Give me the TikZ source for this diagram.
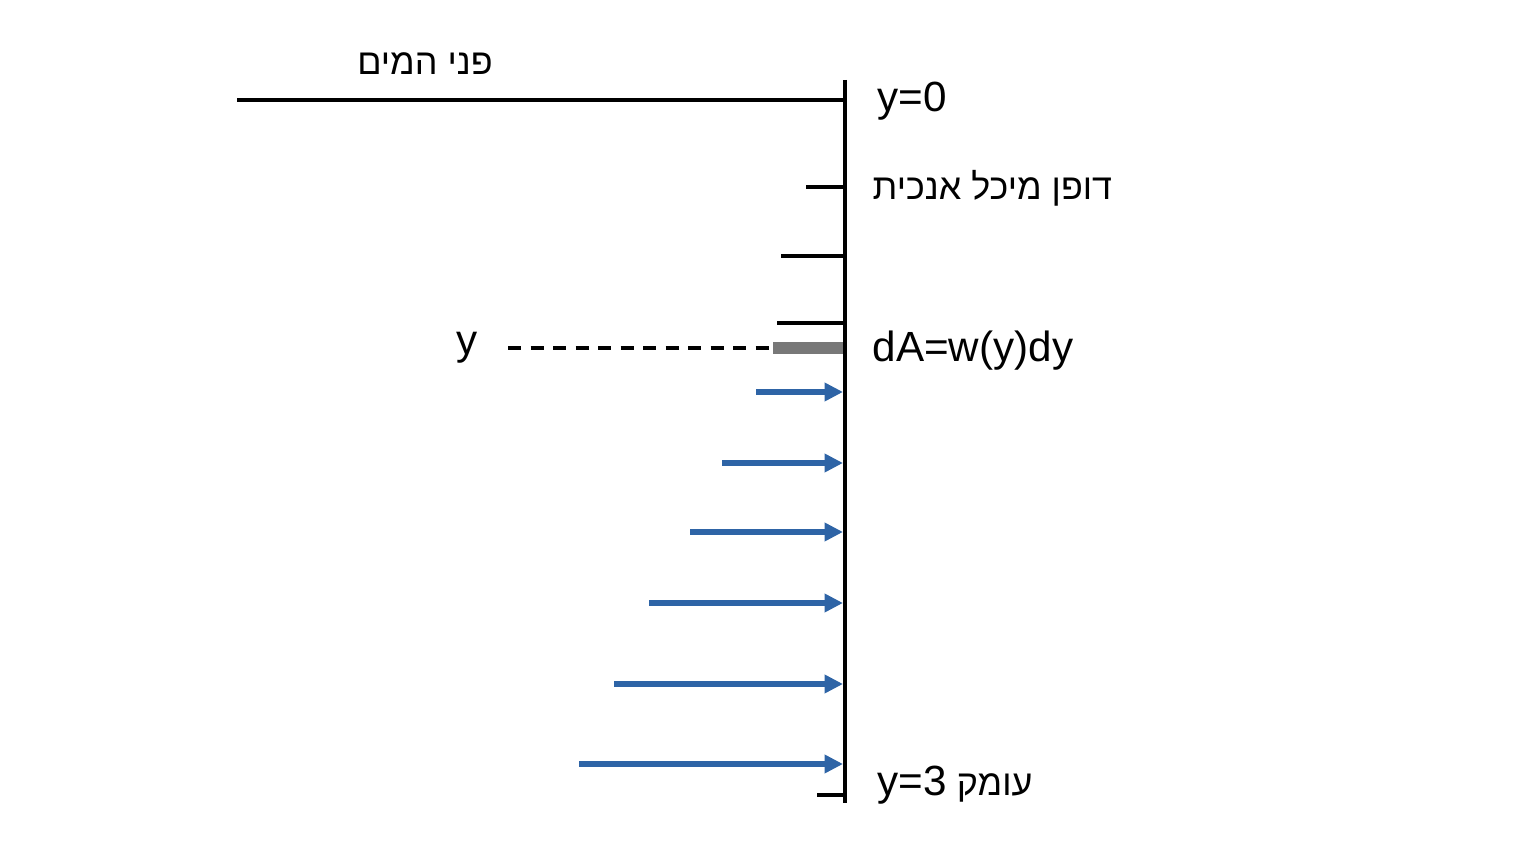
\documentclass[tikz,border=0pt]{standalone}
\usepackage{fontspec}
\setmainfont{Liberation Sans}
\newfontfamily\hebfont[Script=Hebrew]{Liberation Sans}
\TeXXeTstate=1
\usetikzlibrary{arrows.meta}
\definecolor{arrblue}{RGB}{46,100,166}
\definecolor{bargray}{RGB}{120,120,120}
\begin{document}
\begin{tikzpicture}[x=0.01cm,y=-0.01cm,
  lbl/.style={inner sep=0pt,font=\fontsize{12pt}{14pt}\selectfont},
  heb/.style={inner sep=0pt,font=\fontsize{10.2pt}{12pt}\hebfont},
  tickline/.style={line width=0.9pt},
  force/.style={arrblue,line width=1.5pt,-{Triangle[length=5.2pt,width=5pt]}}]
\useasboundingbox (0,0) rectangle (1536,864);
% wall
\coordinate (wtop) at (845,80);
\coordinate (wbot) at (845,803);
\draw[line width=1.4pt] (wtop) -- (wbot);
% water surface
\coordinate (s0) at (237,100);
\coordinate (s1) at (845,100);
\draw[tickline] (s0) -- (s1);
\node[heb] (surf) at (425,64) {\beginR פני המים\endR};
% ticks
\coordinate (t1a) at (806,187); \coordinate (t1b) at (845,187);
\coordinate (t2a) at (781,256); \coordinate (t2b) at (845,256);
\coordinate (t3a) at (777,323); \coordinate (t3b) at (845,323);
\coordinate (t4a) at (817,795); \coordinate (t4b) at (845,795);
\draw[tickline] (t1a) -- (t1b);
\draw[tickline] (t2a) -- (t2b);
\draw[tickline] (t3a) -- (t3b);
\draw[tickline] (t4a) -- (t4b);
% element dA
\coordinate (ba) at (773,348); \coordinate (bb) at (843,348);
\draw[bargray,line width=3.6pt] (ba) -- (bb);
\coordinate (da) at (508,348);
\draw[line width=0.9pt,dash pattern=on 3.8pt off 2.6pt] (da) -- (ba);
\node[lbl] (ylab) at (467,348) {y};
% labels
\node[lbl,anchor=west] (y0) at (877,101) {y=0};
\node[heb,anchor=west] (wall) at (872,188) {\beginR דופן מיכל אנכית\endR};
\node[lbl,anchor=west] (dA) at (872,351) {dA=w(y)dy};
\node[heb,anchor=west] (depth) at (877,785) {\beginR עומק \beginL{\fontsize{12pt}{14pt}\selectfont y=3}\endL\endR};
% pressure arrows
\foreach \yy/\xs [count=\i] in {392/756,463/722,532/690,603/649,684/614,764/579}{
  \coordinate (fa\i) at (\xs,\yy);
  \coordinate (fb\i) at (843,\yy);
  \draw[force] (fa\i) -- (fb\i);
}
\end{tikzpicture}
\end{document}
